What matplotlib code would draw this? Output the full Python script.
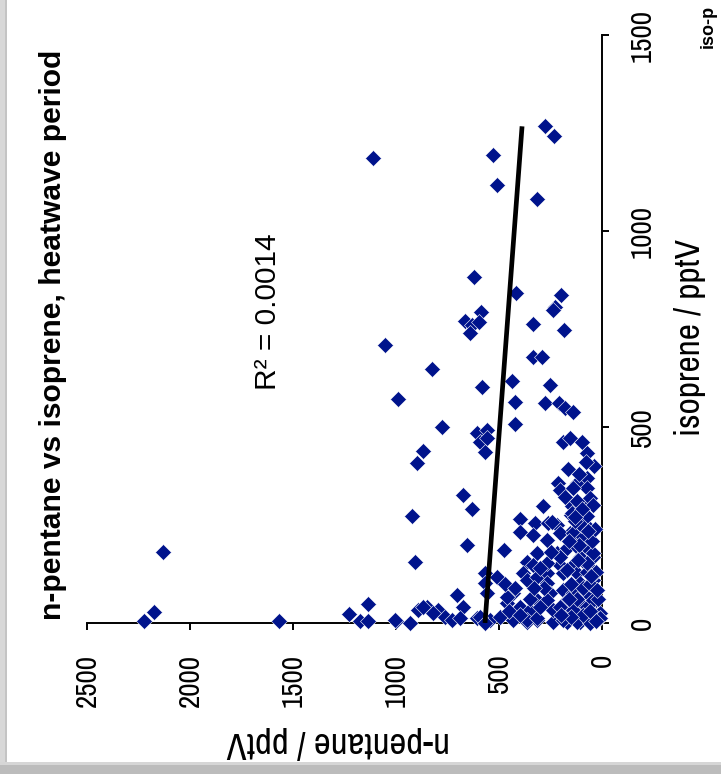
import matplotlib
matplotlib.use('Agg')
import matplotlib.pyplot as plt
from matplotlib.patches import Rectangle
import numpy as np

# n-pentane (pptV) against isoprene (pptV), heatwave period
npentane = [
    2222, 2177, 2133, 1567, 1230, 1173, 1138, 1136, 1000, 920, 910, 932, 1113,
    279, 233, 531, 508, 314, 622, 418, 200, 230, 236, 585, 667, 630, 597, 643,
    335, 183, 337, 290, 1054, 825, 582, 435, 253, 988, 420, 275, 210,
    180, 139, 778, 608, 560, 592, 560, 568, 422, 867, 900, 188, 155, 99, 74,
    164, 212, 204, 180, 123, 74, 74, 139, 676, 633, 285, 147, 152, 74, 398,
    398, 325, 261, 220, 333, 268, 155, 107, 654, 476, 317, 366, 333, 220, 171,
    123, 74, 42, 107, 74, 139, 204, 568, 511, 568, 382, 366, 317, 268, 268,
    188, 123, 74, 42, 107, 705, 676, 560, 430, 463, 398, 317, 252, 252, 188,
    171, 139, 74, 26, 42, 107, 155, 42, 26,
    1005, 892, 851, 795, 762, 730, 689, 608, 544, 495, 430, 366, 317, 236,
    171, 107, 42,
    244, 147, 204, 139, 91, 42, 74, 268, 204, 171, 819, 867, 592, 568, 463,
    350, 268, 236, 204, 139, 74, 42, 10, 366, 317, 188, 123, 58, 10,
    90, 60, 120, 100, 60, 130, 50, 110, 160, 30, 90, 60, 150, 20, 120, 90,
    60, 150, 200, 30, 450, 400, 350, 300, 280, 470, 420, 330, 300, 250,
    40, 80, 110, 45, 95, 130, 35, 70, 115, 55, 160, 25,
]
isoprene = [
    5, 27, 181, 5, 22, 5, 5, 48, 5, 274, 156, 1, 1185,
    1267, 1243, 1195, 1117, 1081, 883, 841, 836, 807, 798, 794, 770, 759, 768, 740,
    763, 747, 679, 679, 709, 649, 602, 618, 608, 572, 565, 562, 562,
    548, 539, 501, 484, 492, 462, 471, 437, 508, 439, 407, 462, 471, 462, 433,
    392, 356, 339, 322, 356, 369, 344, 344, 327, 291, 298, 298, 276, 274, 265,
    233, 254, 254, 250, 224, 212, 229, 220, 199, 186, 178, 156, 148, 178, 191,
    195, 191, 169, 169, 148, 148, 148, 127, 118, 101, 127, 110, 118, 127, 101,
    127, 127, 131, 110, 101, 71, 42, 76, 76, 50, 42, 59, 76, 42, 84,
    59, 76, 76, 84, 50, 50, 33, 25, 16,
    8, 33, 42, 33, 16, 8, 12, 12, 8, 16, 8, 3, 8, 3,
    3, 3, 16,
    258, 280, 229, 229, 220, 178, 152, 152, 169, 135, 25, 42, 16, 0, 67,
    33, 59, 33, 42, 33, 42, 59, 25, 8, 12, 8, 3, 0, 12,
    300, 320, 310, 250, 240, 260, 210, 200, 210, 130, 90, 100, 100, 60, 60, 20,
    30, 15, 20, 5, 30, 20, 60, 40, 90, 100, 90, 90, 140, 180,
    400, 410, 380, 300, 290, 270, 240, 235, 160, 120, 60, 85,
]

# linear trendline, n-pentane = a + b * isoprene
trend_a = 568
trend_b = -0.142
r2 = 0.0014

np_ticks = [0, 500, 1000, 1500, 2000, 2500]
iso_ticks = [0, 500, 1000, 1500]

W, H = 721, 774
narrow = ['Archivo Narrow', 'DejaVu Sans']
regular = ['Liberation Sans', 'DejaVu Sans']


def fx(px):
    return px / W


def fy(py):
    return 1 - py / H


fig = plt.figure(figsize=(W / 100, H / 100), dpi=100)
fig.patch.set_facecolor('white')

# page edges
fig.patches.append(Rectangle((0, 0), 1, fy(762), transform=fig.transFigure,
                             facecolor='#bcbcbc', edgecolor='none', zorder=0))
fig.patches.append(Rectangle((0, fy(765)), 1, 3 / H, transform=fig.transFigure,
                             facecolor='#d6d6d6', edgecolor='none', zorder=0))
fig.patches.append(Rectangle((0, fy(762)), 6 / W, 1, transform=fig.transFigure,
                             facecolor='#d8d8d8', edgecolor='none', zorder=0))
fig.patches.append(Rectangle((5 / W, fy(762)), 2 / W, 1, transform=fig.transFigure,
                             facecolor='#c4c4c4', edgecolor='none', zorder=0))

# chart is laid on its side: n-pentane runs right to left, isoprene bottom to top
ax = fig.add_axes([fx(87), fy(623), (602 - 87) / W, (623 - 35) / H])
ax.set_facecolor('none')
ax.set_xlim(2500, 0)
ax.set_ylim(0, 1500)

ax.plot(npentane, isoprene, linestyle='none', marker='D', markersize=8.2,
        markerfacecolor='#00138c', markeredgecolor='white', markeredgewidth=0.4,
        clip_on=False, zorder=3)

iso_line = np.array([0, max(isoprene)])
ax.plot(trend_a + trend_b * iso_line, iso_line, color='black', linewidth=3.4,
        solid_capstyle='butt', zorder=4)

for side in ['left', 'top']:
    ax.spines[side].set_visible(False)
for side in ['bottom', 'right']:
    ax.spines[side].set_linewidth(1.4)
    ax.spines[side].set_zorder(2)

ax.yaxis.tick_right()
ax.set_xticks(np_ticks, [str(t) for t in np_ticks], rotation=90,
              ha='center', va='top', family=narrow, fontsize=21)
ax.set_yticks(iso_ticks, [str(t) for t in iso_ticks], rotation=90,
              ha='left', va='center', family=narrow, fontsize=21)
ax.tick_params(axis='both', direction='out', length=5, width=1.4)
ax.tick_params(axis='x', pad=17)
ax.tick_params(axis='y', pad=14)

fig.text(fx(53), fy(335), 'n-pentane vs isoprene, heatwave period', rotation=90,
         ha='center', va='center', fontsize=21.6, fontweight='bold', family=regular)
fig.text(fx(268), fy(312), 'R\u00b2 = %.4f' % r2, rotation=90,
         ha='center', va='center', fontsize=21.5, family=regular)
fig.text(fx(690), fy(337), 'isoprene / pptV', rotation=90,
         ha='center', va='center', fontsize=25.5, family=narrow)
fig.text(fx(338), fy(742), 'n-pentane / pptV', rotation=180,
         ha='center', va='center', fontsize=26.5, family=narrow)
fig.text(fx(708), fy(48), 'iso-p', rotation=90, ha='center', va='bottom',
         fontsize=13, fontweight='bold', family=regular)

fig.savefig('out.png', dpi=100, facecolor='white')
